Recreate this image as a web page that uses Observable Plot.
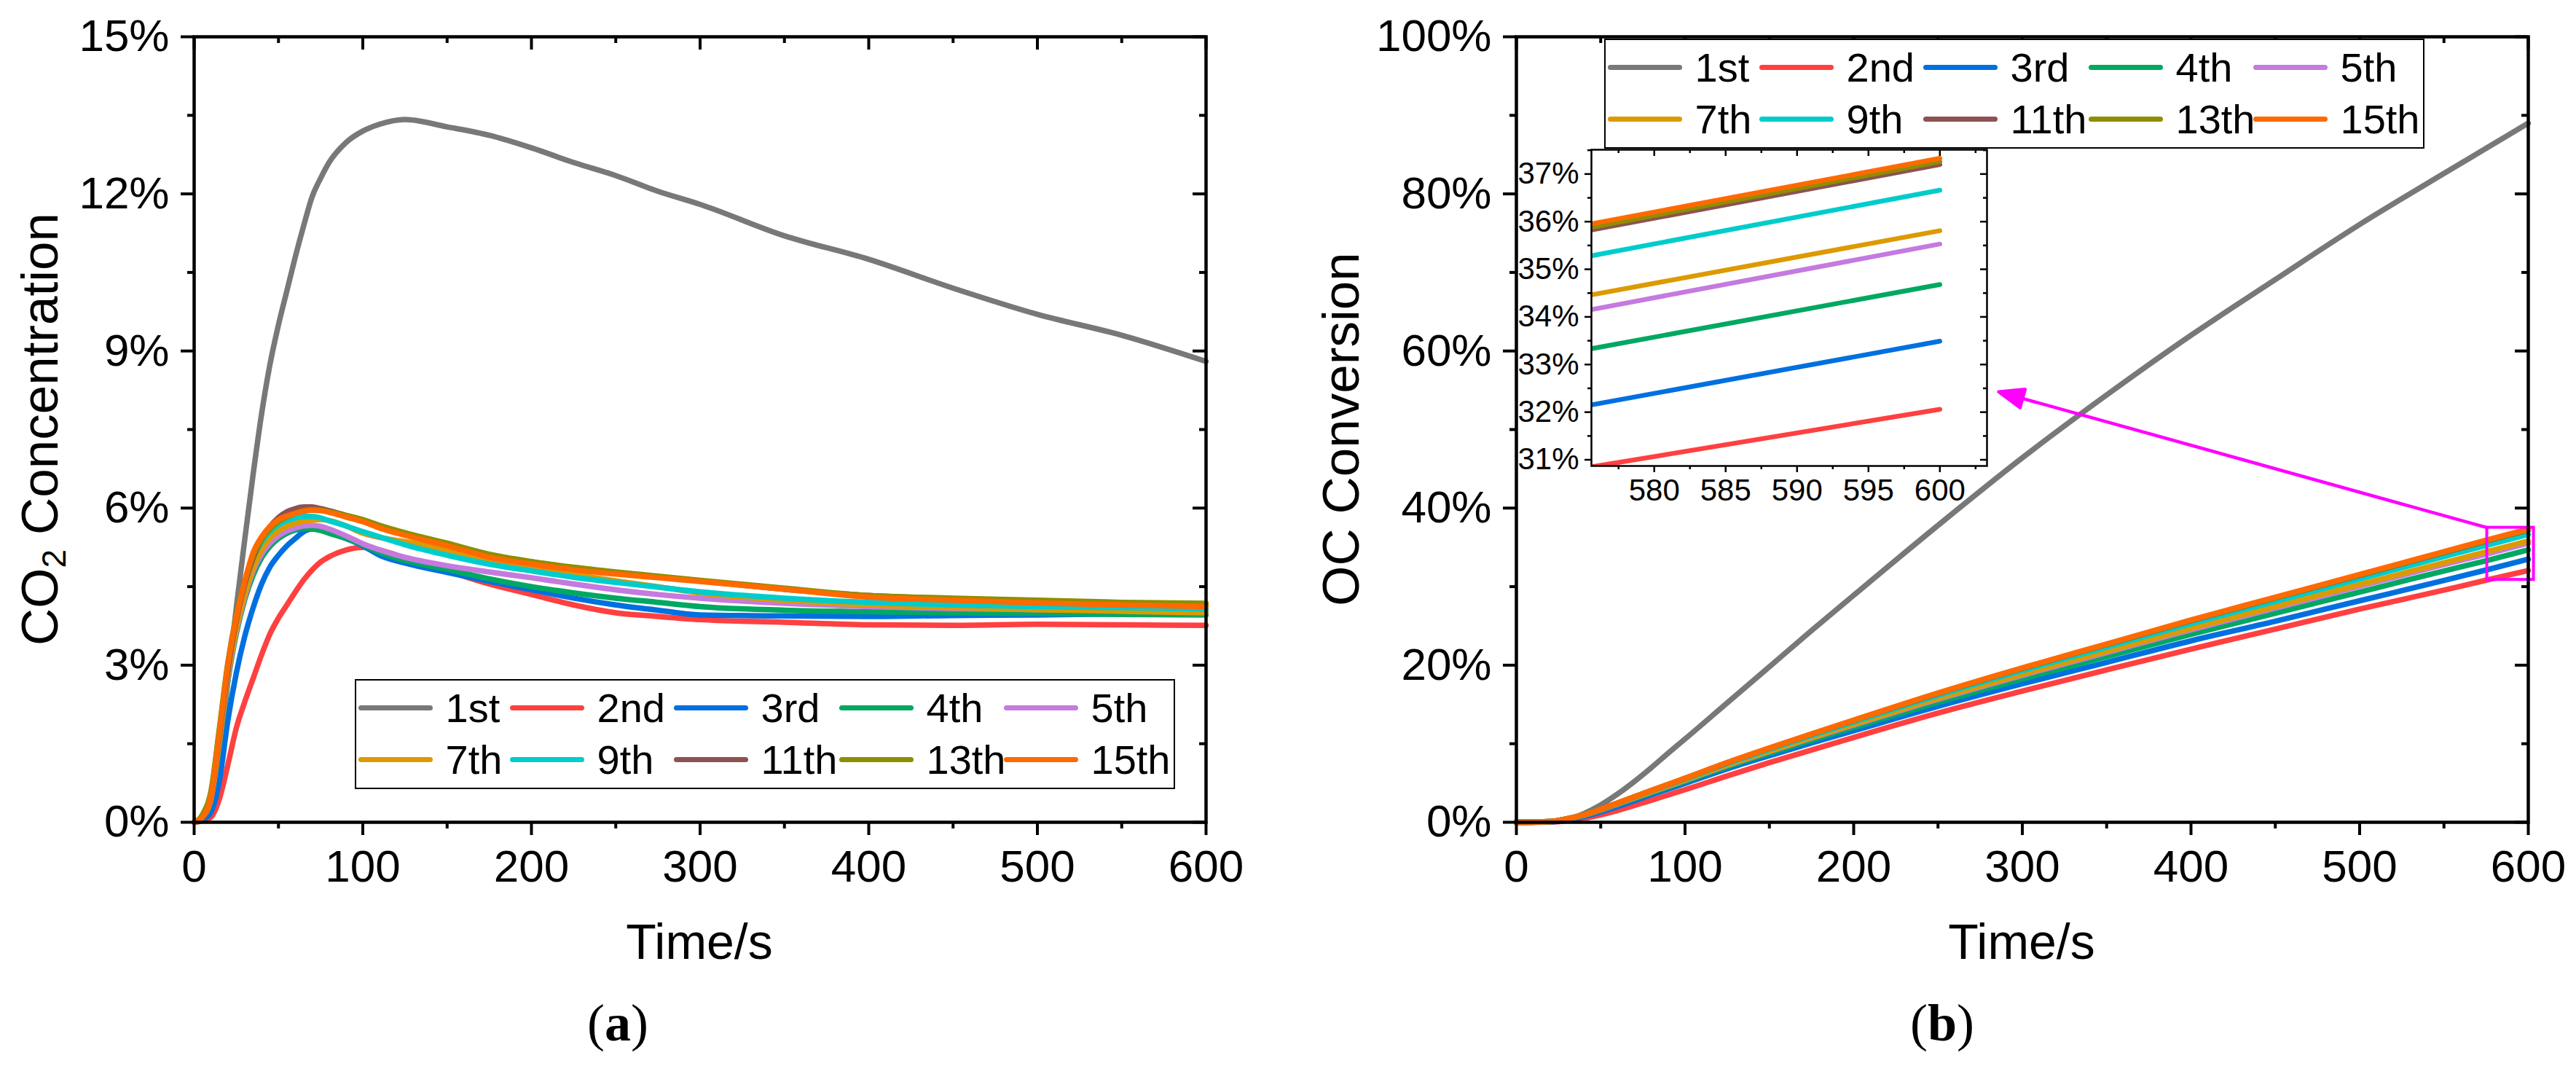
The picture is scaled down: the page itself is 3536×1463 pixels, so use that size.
<!DOCTYPE html>
<html>
<head>
<meta charset="utf-8">
<script src="https://cdn.jsdelivr.net/npm/d3@7"></script>
<script src="https://cdn.jsdelivr.net/npm/@observablehq/plot@0.6"></script>
<style>
  body { margin: 0; background: white; }
  #fig { position: relative; width: 3536px; height: 1463px; font-family: "Liberation Sans", Arial, sans-serif; color: black; }
  #fig > div { position: absolute; }
  .ytitle, .xtitle, .cap { white-space: nowrap; line-height: 1; }
  .ytitle { transform: translate(-50%, -50%) rotate(-90deg); font-size: 71px; }
  .xtitle { transform: translate(-50%, -50%); font-size: 68px; }
  .cap { transform: translate(-50%, -50%); font-family: "Liberation Serif", "Times New Roman", serif; font-size: 72px; }
  .ytitle sub { font-size: 0.65em; vertical-align: -0.25em; }
  .legend { background: white; border: 2.5px solid black; box-sizing: border-box; width: 1126px; height: 151px; }
  .legend .sw { position: absolute; width: 102px; height: 7px; border-radius: 3.5px; }
  .legend .lb { position: absolute; font-size: 56px; line-height: 56px; white-space: nowrap; }
</style>
</head>
<body>
<div id="fig">
  <div id="chartA" style="left:0;top:0"></div>
  <div id="chartB" style="left:1815px;top:0"></div>
  <div id="inset" style="left:2074px;top:195px"></div>
  <div id="legendA" class="legend" style="left:487px;top:932px"></div>
  <div id="legendB" class="legend" style="left:2202px;top:53px"></div>
  <div class="ytitle" style="left:58px;top:589px">CO<sub>2</sub> Concentration</div>
  <div class="ytitle" style="left:1840px;top:589px">OC Conversion</div>
  <div class="xtitle" style="left:960px;top:1292px">Time/s</div>
  <div class="xtitle" style="left:2775px;top:1292px">Time/s</div>
  <div class="cap" style="left:848px;top:1404px">(<b>a</b>)</div>
  <div class="cap" style="left:2666px;top:1404px">(<b>b</b>)</div>
</div>
<script>
// cycles shown and their colours
const runs = ["1st", "2nd", "3rd", "4th", "5th", "7th", "9th", "11th", "13th", "15th"];
const colors = ["#787878", "#FF4040", "#0070E0", "#00A862", "#C57ADF", "#DD9A00", "#00CCCC", "#8C5252", "#8E8E00", "#FF6A00"];

// (a) CO2 concentration, % — time in s
const tA = [0, 5, 10, 15, 20, 25, 30, 35, 40, 45, 50, 55, 60, 65, 70, 75, 80, 90, 100, 110, 125, 150, 175, 200, 225, 250, 275, 300, 350, 400, 450, 500, 550, 600];
const co2_1st = [0, 0.05, 0.35, 1.2, 2.7, 4.1, 5.4, 6.65, 7.8, 8.75, 9.5, 10.15, 10.8, 11.4, 11.95, 12.3, 12.6, 12.98, 13.2, 13.33, 13.42, 13.28, 13.12, 12.88, 12.6, 12.35, 12.05, 11.8, 11.2, 10.75, 10.2, 9.7, 9.3, 8.8];
const co2_2nd = [0, 0.03, 0.1, 0.45, 1.1, 1.8, 2.3, 2.75, 3.2, 3.6, 3.9, 4.15, 4.4, 4.63, 4.82, 4.97, 5.07, 5.2, 5.25, 5.2, 5.05, 4.8, 4.55, 4.35, 4.15, 4.0, 3.93, 3.87, 3.82, 3.77, 3.76, 3.78, 3.77, 3.76];
const co2_3rd = [0, 0.05, 0.2, 0.8, 1.95, 2.85, 3.55, 4.1, 4.55, 4.88, 5.1, 5.28, 5.42, 5.55, 5.6, 5.6, 5.55, 5.42, 5.28, 5.1, 4.95, 4.77, 4.6, 4.44, 4.28, 4.15, 4.05, 3.96, 3.94, 3.93, 3.95, 3.96, 3.98, 4.0];
const co2_4th = [0, 0.1, 0.45, 1.5, 2.7, 3.6, 4.25, 4.72, 5.05, 5.27, 5.42, 5.52, 5.58, 5.61, 5.6, 5.57, 5.52, 5.42, 5.3, 5.15, 5.0, 4.83, 4.65, 4.5, 4.38, 4.28, 4.2, 4.12, 4.05, 4.02, 4.0, 3.99, 3.97, 3.96];
const co2_5th = [0, 0.1, 0.45, 1.55, 2.75, 3.65, 4.3, 4.8, 5.12, 5.33, 5.47, 5.56, 5.62, 5.66, 5.67, 5.65, 5.6, 5.47, 5.32, 5.2, 5.06, 4.9, 4.78, 4.67, 4.55, 4.44, 4.35, 4.28, 4.18, 4.12, 4.08, 4.06, 4.05, 4.05];
const co2_7th = [0, 0.1, 0.45, 1.55, 2.8, 3.7, 4.35, 4.85, 5.2, 5.42, 5.56, 5.65, 5.71, 5.75, 5.77, 5.78, 5.76, 5.66, 5.52, 5.44, 5.36, 5.2, 5.02, 4.86, 4.73, 4.61, 4.5, 4.38, 4.24, 4.15, 4.1, 4.06, 4.03, 4.0];
const co2_9th = [0, 0.12, 0.55, 1.75, 3.0, 3.9, 4.55, 5.05, 5.35, 5.55, 5.68, 5.76, 5.81, 5.84, 5.84, 5.81, 5.76, 5.66, 5.55, 5.45, 5.3, 5.1, 4.93, 4.8, 4.68, 4.58, 4.49, 4.4, 4.28, 4.2, 4.15, 4.12, 4.1, 4.07];
const co2_11th = [0, 0.1, 0.5, 1.65, 2.9, 3.85, 4.55, 5.05, 5.4, 5.65, 5.82, 5.93, 5.99, 6.02, 6.02, 5.99, 5.95, 5.86, 5.76, 5.65, 5.5, 5.3, 5.1, 4.97, 4.86, 4.77, 4.69, 4.61, 4.45, 4.33, 4.27, 4.22, 4.17, 4.14];
const co2_13th = [0, 0.15, 0.6, 1.8, 3.05, 3.95, 4.6, 5.1, 5.4, 5.6, 5.74, 5.83, 5.9, 5.95, 5.97, 5.96, 5.93, 5.86, 5.78, 5.67, 5.53, 5.33, 5.12, 4.98, 4.87, 4.78, 4.7, 4.62, 4.47, 4.33, 4.28, 4.24, 4.2, 4.18];
const co2_15th = [0, 0.1, 0.5, 1.7, 3.0, 3.9, 4.6, 5.15, 5.45, 5.65, 5.78, 5.85, 5.9, 5.94, 5.96, 5.95, 5.92, 5.83, 5.74, 5.62, 5.48, 5.28, 5.06, 4.93, 4.82, 4.74, 4.67, 4.6, 4.45, 4.3, 4.24, 4.19, 4.15, 4.12];

// (b) OC conversion, % — time in s
const tB = [0, 20, 30, 40, 50, 60, 70, 80, 90, 100, 125, 150, 175, 200, 250, 300, 350, 400, 450, 500, 550, 575, 600];
const oc_1st = [0, 0.05, 0.35, 1.1, 2.2, 3.6, 5.2, 6.95, 8.8, 10.6, 15.2, 19.8, 24.4, 28.9, 37.8, 46.4, 54.4, 62.0, 69.1, 76.1, 82.6, 85.8, 89.0];
const oc_2nd = [0, 0.03, 0.2, 0.5, 0.95, 1.5, 2.15, 2.8, 3.48, 4.15, 5.9, 7.6, 9.2, 10.8, 13.9, 16.7, 19.4, 22.05, 24.6, 27.15, 29.55, 30.82, 32.06];
const oc_3rd = [0, 0.05, 0.3, 0.72, 1.3, 2.0, 2.75, 3.5, 4.22, 4.95, 6.8, 8.48, 10.1, 11.66, 14.76, 17.63, 20.36, 23.1, 25.6, 28.2, 30.78, 32.12, 33.49];
const oc_4th = [0, 0.09, 0.42, 0.88, 1.53, 2.28, 3.02, 3.76, 4.48, 5.2, 7.06, 8.78, 10.45, 12.08, 15.28, 18.25, 21.09, 23.92, 26.62, 29.31, 32.0, 33.3, 34.68];
const oc_5th = [0, 0.09, 0.43, 0.9, 1.57, 2.33, 3.09, 3.86, 4.6, 5.33, 7.24, 9.0, 10.71, 12.38, 15.66, 18.71, 21.61, 24.51, 27.27, 30.04, 32.8, 34.12, 35.53];
const oc_7th = [0, 0.1, 0.43, 0.91, 1.58, 2.35, 3.12, 3.88, 4.62, 5.37, 7.29, 9.06, 10.79, 12.47, 15.78, 18.84, 21.77, 24.69, 27.48, 30.26, 33.04, 34.43, 35.81];
const oc_9th = [0, 0.1, 0.44, 0.93, 1.62, 2.41, 3.19, 3.98, 4.74, 5.5, 7.46, 9.28, 11.05, 12.77, 16.15, 19.3, 22.29, 25.29, 28.13, 30.98, 33.83, 35.25, 36.66];
const oc_11th = [0, 0.1, 0.45, 0.95, 1.64, 2.44, 3.24, 4.04, 4.8, 5.58, 7.57, 9.42, 11.21, 12.95, 16.39, 19.58, 22.62, 25.66, 28.55, 31.44, 34.33, 35.79, 37.2];
const oc_13th = [0, 0.1, 0.45, 0.95, 1.65, 2.45, 3.24, 4.04, 4.81, 5.59, 7.58, 9.43, 11.23, 12.97, 16.42, 19.61, 22.65, 25.7, 28.59, 31.49, 34.38, 35.85, 37.26];
const oc_15th = [0, 0.1, 0.45, 0.95, 1.65, 2.45, 3.25, 4.05, 4.82, 5.6, 7.6, 9.45, 11.25, 13.0, 16.45, 19.65, 22.7, 25.75, 28.65, 31.55, 34.45, 35.92, 37.33];

// axis ticks
const xMajor = [0, 100, 200, 300, 400, 500, 600];
const xMinor = [50, 150, 250, 350, 450, 550];
const yMajorA = [0, 3, 6, 9, 12, 15];
const yMinorA = [1.5, 4.5, 7.5, 10.5, 13.5];
const yMajorB = [0, 20, 40, 60, 80, 100];
const yMinorB = [10, 30, 50, 70, 90];

// zoomed window of (b)
const insetX = [575.6, 603.3];
const insetY = [30.87, 37.51];
const insetXMajor = [580, 585, 590, 595, 600];
const insetXMinor = [577.5, 582.5, 587.5, 592.5, 597.5, 602.5];
const insetYMajor = [31, 32, 33, 34, 35, 36, 37];
const insetYMinor = [31.5, 32.5, 33.5, 34.5, 35.5, 36.5, 37.5];
const arrowTip = [286, 54.8];

const co2Series = [co2_1st, co2_2nd, co2_3rd, co2_4th, co2_5th, co2_7th, co2_9th, co2_11th, co2_13th, co2_15th];
const ocSeries = [oc_1st, oc_2nd, oc_3rd, oc_4th, oc_5th, oc_7th, oc_9th, oc_11th, oc_13th, oc_15th];

const rowsA = runs.flatMap((run, i) => tA.map((t, j) => ({run, t, v: co2Series[i][j]})));
const rowsB = runs.flatMap((run, i) => tB.map((t, j) => ({run, t, v: ocSeries[i][j]})));

const fontFamily = '"Liberation Sans", Arial, sans-serif';
const pct = d => d + "%";

// panel frame geometry (same for a and b)
const W = 1721, H = 1340, mL = 266, mR = 66, mT = 50, mB = 212;
const fw = W - mL - mR, fh = H - mT - mB;

function panel(rows, yDomain, yMajor, yMinor, extra) {
  return Plot.plot({
    width: W, height: H,
    marginLeft: mL, marginRight: mR, marginTop: mT, marginBottom: mB,
    style: {fontFamily, color: "black", background: "transparent", overflow: "visible"},
    x: {domain: [0, 600]},
    y: {domain: yDomain},
    color: {domain: runs, range: colors},
    marks: [
      Plot.line(rows, {x: "t", y: "v", stroke: "run", z: "run", strokeWidth: 7.5, curve: "monotone-x"}),
      ...extra,
      Plot.frame({stroke: "black", strokeWidth: 4.5}),
      Plot.axisX({ticks: xMajor, tickSize: 18, tickPadding: 19, strokeWidth: 4, fontSize: 62, label: null}),
      Plot.axisX({ticks: xMinor, tickSize: 9, strokeWidth: 4, tickFormat: () => "", label: null}),
      Plot.tickX(xMajor, {x: d => d, insetBottom: fh - 18, strokeWidth: 4}),
      Plot.tickX(xMinor, {x: d => d, insetBottom: fh - 9, strokeWidth: 4}),
      Plot.axisY({ticks: yMajor, tickSize: 18, tickPadding: 16, strokeWidth: 4, fontSize: 62, tickFormat: pct, label: null}),
      Plot.axisY({ticks: yMinor, tickSize: 9, strokeWidth: 4, tickFormat: () => "", label: null}),
      Plot.tickY(yMajor, {y: d => d, insetLeft: fw - 18, strokeWidth: 4}),
      Plot.tickY(yMinor, {y: d => d, insetLeft: fw - 9, strokeWidth: 4})
    ]
  });
}

let chartA = panel(rowsA, [0, 15], yMajorA, yMinorA, []);
d3.select("#chartA").append(() => chartA);

// arrow from the magenta box to the inset, with a filled head
const sx = d3.scaleLinear([0, 600], [mL, mL + fw]);
const sy = d3.scaleLinear([0, 100], [mT + fh, mT]);
const adx = sx(arrowTip[0]) - sx(insetX[0]);
const ady = sy(arrowTip[1]) - sy(insetY[1]);
const arrowLen = Math.hypot(adx, ady);
const arrowRot = Math.atan2(adx, -ady) * 180 / Math.PI;
const filledArrow = {
  draw(context, l) {
    const h = 34, w = 13;
    context.moveTo(0, 0);
    context.lineTo(0, -l + h);
    context.moveTo(0, -l);
    context.lineTo(-w, -l + h);
    context.lineTo(w, -l + h);
    context.closePath();
  }
};

const boxMark = Plot.rect([0], {x1: insetX[0], x2: insetX[1], y1: insetY[0], y2: insetY[1], stroke: "#FF00FF", strokeWidth: 4, fill: "none"});
let chartB;
try {
  chartB = panel(rowsB, [0, 100], yMajorB, yMinorB, [
    boxMark,
    Plot.vector([0], {x: arrowTip[0], y: arrowTip[1], anchor: "end", length: arrowLen, rotate: arrowRot,
      shape: filledArrow, stroke: "#FF00FF", fill: "#FF00FF", strokeWidth: 4.5})
  ]);
} catch (e) {
  chartB = panel(rowsB, [0, 100], yMajorB, yMinorB, [
    boxMark,
    Plot.arrow([0], {x1: insetX[0], y1: insetY[1], x2: arrowTip[0], y2: arrowTip[1], stroke: "#FF00FF", strokeWidth: 4.5, headLength: 34, headAngle: 40})
  ]);
}
d3.select("#chartB").append(() => chartB);

// inset
{
  const iL = 110, iR = 20, iT = 10, iB = 70, iw = 543, ih = 434;
  let chartInset = Plot.plot({
    width: iL + iw + iR, height: iT + ih + iB,
    marginLeft: iL, marginRight: iR, marginTop: iT, marginBottom: iB,
    style: {fontFamily, color: "black", background: "transparent", overflow: "visible"},
    x: {domain: insetX},
    y: {domain: insetY},
    color: {domain: runs, range: colors},
    marks: [
      Plot.frame({fill: "white"}),
      Plot.line(rowsB.filter(d => d.t >= 550), {x: "t", y: "v", stroke: "run", z: "run", strokeWidth: 6.5, clip: true}),
      Plot.frame({stroke: "black", strokeWidth: 2.5}),
      Plot.axisX({ticks: insetXMajor, tickSize: 9, tickPadding: 9, strokeWidth: 2.5, fontSize: 42, label: null}),
      Plot.axisX({ticks: insetXMinor, tickSize: 5, strokeWidth: 2.5, tickFormat: () => "", label: null}),
      Plot.tickX(insetXMajor, {x: d => d, insetBottom: ih - 9, strokeWidth: 2.5}),
      Plot.tickX(insetXMinor, {x: d => d, insetBottom: ih - 5, strokeWidth: 2.5}),
      Plot.axisY({ticks: insetYMajor, tickSize: 9, tickPadding: 8, strokeWidth: 2.5, fontSize: 42, tickFormat: pct, label: null}),
      Plot.axisY({ticks: insetYMinor, tickSize: 5, strokeWidth: 2.5, tickFormat: () => "", label: null}),
      Plot.tickY(insetYMajor, {y: d => d, insetLeft: iw - 9, strokeWidth: 2.5}),
      Plot.tickY(insetYMinor, {y: d => d, insetLeft: iw - 5, strokeWidth: 2.5})
    ]
  });
  d3.select("#inset").append(() => chartInset);
}

// legends (two rows of five)
const legendCols = [5, 213, 438, 665, 891];
const legendRows = [40, 111];
for (const id of ["#legendA", "#legendB"]) {
  const box = d3.select(id);
  runs.forEach((run, i) => {
    const c = i % 5, r = Math.floor(i / 5);
    box.append("div").attr("class", "sw")
      .style("left", (legendCols[c] - 2.5) + "px")
      .style("top", (legendRows[r] - 2.5 - 3.5) + "px")
      .style("background", colors[i]);
    box.append("div").attr("class", "lb")
      .style("left", (legendCols[c] - 2.5 + 120) + "px")
      .style("top", (legendRows[r] - 2.5 - 28) + "px")
      .text(run);
  });
}
</script>
</body>
</html>
